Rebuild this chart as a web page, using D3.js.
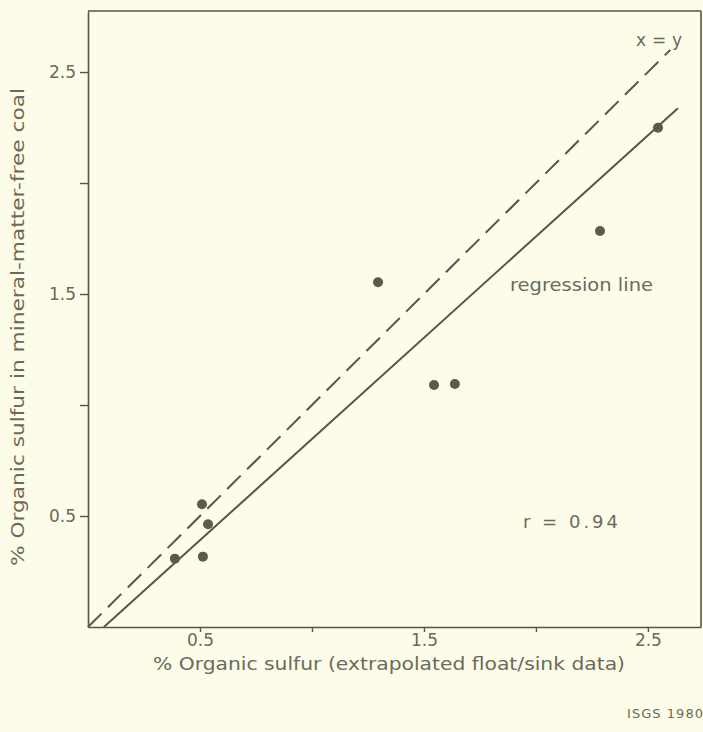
<!DOCTYPE html>
<html>
<head>
<meta charset="utf-8">
<script src="https://cdn.jsdelivr.net/npm/d3@7"></script>
<style>
  html, body { margin: 0; padding: 0; background: #fcfce8; }
  svg { display: block; }
  text { font-family: "DejaVu Sans", "Liberation Sans", Arial, sans-serif; fill: #6a6a5e; }
</style>
</head>
<body>
<svg id="chart" width="703" height="732"></svg>
<script>
// Organic sulfur: extrapolated float/sink value vs. mineral-matter-free value
const floatSinkSulfur = [0.388, 0.513, 0.509, 0.536, 1.295, 1.545, 1.638, 2.286, 2.545];
const mmfSulfur       = [0.308, 0.317, 0.553, 0.463, 1.553, 1.09, 1.095, 1.784, 2.249];

const xTickValues = [0.5, 1.0, 1.5, 2.0, 2.5];
const xTickLabels = ["0.5", "", "1.5", "", "2.5"];
const yTickValues = [0.5, 1.0, 1.5, 2.0, 2.5];
const yTickLabels = ["0.5", "", "1.5", "", "2.5"];

// Reference line x = y and the fitted regression line
const identityExtent = [0, 2.6];
const regressionSlope = 0.912;
const regressionIntercept = -0.065;
const regressionExtent = [0.071, 2.634];
const correlation = 0.94;

const ink = "#55554a";
const svg = d3.select("#chart");

const xMax = 2.737, yMax = 2.775;
const x = d3.scaleLinear().domain([0, xMax]).range([88, 701]);
const y = d3.scaleLinear().domain([0, yMax]).range([627, 11]);

// Frame: top and right borders
svg.append("line")
  .attr("x1", x(0)).attr("x2", x(xMax))
  .attr("y1", y(yMax)).attr("y2", y(yMax))
  .attr("stroke", ink).attr("stroke-width", 1.6);
svg.append("line")
  .attr("x1", x(xMax)).attr("x2", x(xMax))
  .attr("y1", y(yMax)).attr("y2", y(0))
  .attr("stroke", ink).attr("stroke-width", 1.6);

// Axes
const xAxis = d3.axisBottom(x)
  .tickValues(xTickValues)
  .tickFormat((d, i) => xTickLabels[i])
  .tickSizeInner(5).tickSizeOuter(0).tickPadding(2);
const yAxis = d3.axisLeft(y)
  .tickValues(yTickValues)
  .tickFormat((d, i) => yTickLabels[i])
  .tickSizeInner(8).tickSizeOuter(0).tickPadding(4);

const gx = svg.append("g").attr("transform", `translate(0,${y(0)})`).call(xAxis);
const gy = svg.append("g").attr("transform", `translate(${x(0)},0)`).call(yAxis);

[gx, gy].forEach(g => {
  g.select(".domain").attr("stroke", ink).attr("stroke-width", 1.6);
  g.selectAll(".tick line").attr("stroke", ink).attr("stroke-width", 1.4);
  g.selectAll(".tick text")
    .attr("fill", "#6a6a5e")
    .style("font-family", "'DejaVu Sans', sans-serif")
    .style("font-size", "17px");
});

// x = y dashed line
svg.append("line")
  .attr("x1", x(identityExtent[0])).attr("y1", y(identityExtent[0]))
  .attr("x2", x(identityExtent[1])).attr("y2", y(identityExtent[1]))
  .attr("stroke", ink).attr("stroke-width", 2)
  .attr("stroke-dasharray", "19 9");

// Regression line
const reg = v => regressionSlope * v + regressionIntercept;
svg.append("line")
  .attr("x1", x(regressionExtent[0])).attr("y1", y(reg(regressionExtent[0])))
  .attr("x2", x(regressionExtent[1])).attr("y2", y(reg(regressionExtent[1])))
  .attr("stroke", ink).attr("stroke-width", 2);

// Samples
svg.append("g").selectAll("circle")
  .data(floatSinkSulfur.map((v, i) => [v, mmfSulfur[i]]))
  .join("circle")
  .attr("cx", d => x(d[0]))
  .attr("cy", d => y(d[1]))
  .attr("r", 5)
  .attr("fill", "#5a5a4f");

// Annotations
svg.append("text")
  .attr("x", 659).attr("y", 46)
  .attr("text-anchor", "middle")
  .style("font-size", "17px")
  .attr("textLength", 46).attr("lengthAdjust", "spacing")
  .text("x = y");

svg.append("text")
  .attr("x", 510).attr("y", 291)
  .style("font-size", "18px")
  .attr("textLength", 143).attr("lengthAdjust", "spacingAndGlyphs")
  .text("regression line");

svg.append("text")
  .attr("x", 523).attr("y", 528)
  .style("font-size", "18px")
  .attr("textLength", 95).attr("lengthAdjust", "spacing")
  .text(`r = ${correlation.toFixed(2)}`);

// Axis titles
svg.append("text")
  .attr("x", 153).attr("y", 670)
  .style("font-size", "18px")
  .attr("textLength", 472).attr("lengthAdjust", "spacingAndGlyphs")
  .text("% Organic sulfur (extrapolated float/sink data)");

svg.append("text")
  .attr("transform", "translate(24,566) rotate(-90)")
  .style("font-size", "18px")
  .attr("textLength", 478).attr("lengthAdjust", "spacingAndGlyphs")
  .text("% Organic sulfur in mineral-matter-free coal");

svg.append("text")
  .attr("x", 703).attr("y", 718)
  .attr("text-anchor", "end")
  .style("font-size", "13px")
  .attr("textLength", 76).attr("lengthAdjust", "spacing")
  .text("ISGS 1980");
</script>
</body>
</html>
